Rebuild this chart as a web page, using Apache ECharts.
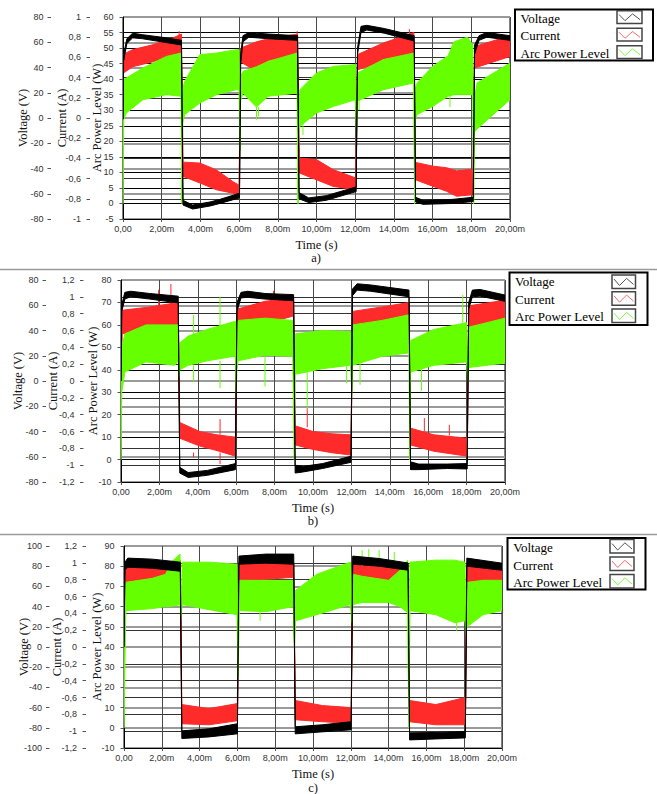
<!DOCTYPE html>
<html><head><meta charset="utf-8">
<script src="https://cdn.jsdelivr.net/npm/echarts@6/dist/echarts.min.js"></script>
<style>html,body{margin:0;padding:0;background:#fff}#c{width:657px;height:794px}</style>
</head><body><div id="c"></div>
<script>
// ---------- tick settings (min, max, interval) ----------
const timeAxis = [0, 20, 2];              // ms
const aArcAxis = [-5, 60, 5], aCurAxis = [-1, 1, 0.2], aVoltAxis = [-80, 80, 20];
const bArcAxis = [-10, 80, 10], bCurAxis = [-1.2, 1.2, 0.2], bVoltAxis = [-80, 80, 20];
const cArcAxis = [-10, 90, 10], cCurAxis = [-1.2, 1.2, 0.2], cVoltAxis = [-100, 100, 20];
const seriesNames = ['Voltage', 'Current', 'Arc Power Level'];
const captions = ['a)', 'b)', 'c)'];

// ---------- panel a (envelopes: time ms, lower / upper edge of the noisy trace) ----------
const aVoltT  = [0,0.03,0.2,0.5,1.0,2.0,3.02, 3.1,3.6,4.5,5.0,6.02, 6.08,6.2,6.5,7.5,9.02, 9.1,9.6,10.5,12.05, 12.12,12.3,12.6,13.5,15.05, 15.12,15.5,17.0,18.1, 18.17,18.4,18.8,20.0];
const aVoltLo = [-1,45,59,63.5,62.8,60.3,57.8, -68.9,-72.1,-69.7,-67.7,-63.3, 43,60.3,64.0,62.8,61.5, -64.0,-67.0,-65.2,-58.3, 50.5,67.7,69.7,67.2,61.0, -66.5,-68.4,-67.7,-66.2, 50.5,61.5,64.0,61.5];
const aVoltHi = [-1,50,62.8,67.2,66.0,64.0,61.5, -65.2,-68.9,-66.5,-64.5,-59.6, 50.5,65.2,67.7,66.5,65.2, -59.1,-63.3,-61.5,-54.6, 55.4,72.6,73.4,70.9,65.2, -62.8,-65.2,-64.5,-62.8, 57.8,65.2,67.7,65.2];

const aCurT  = [0,0.03,0.5,1.5,2.5,3.02, 3.1,3.97,4.83,5.69,6.0, 6.08,6.9,7.5,9.02, 9.12,10.0,10.86,12.03, 12.12,13.45,15.03, 15.12,16.03,16.72,17.24,18.08, 18.17,20.0];
const aCurLo = [-0.05,0.446,0.508,0.554,0.615,0.646, -0.578,-0.643,-0.711,-0.745,-0.760, 0.554,0.462,0.569,0.631, -0.545,-0.612,-0.677,-0.711, 0.477,0.560,0.643, -0.612,-0.677,-0.726,-0.775,-0.760, 0.495,0.609];
const aCurHi = [-0.05,0.631,0.677,0.723,0.785,0.831, -0.437,-0.446,-0.514,-0.631,-0.665, 0.692,0.754,0.785,0.831, -0.397,-0.412,-0.511,-0.594, 0.628,0.742,0.846, -0.440,-0.477,-0.492,-0.523,-0.508, 0.708,0.815];

const aPowT  = [0,0.04,0.17,1.03,2.24,3.0, 3.05,3.09,3.19,3.97,4.83,5.86, 6.0,6.04,6.08,6.2,6.9,7.5,9.0, 9.05,9.09,9.14,10.0,10.86,12.02, 12.07,12.12,13.45,15.03, 15.07,15.11,15.2,16.0,16.8,17.1,17.8,18.08, 18.12,18.16,18.3,20.0];
const aPowLo = [0,27,29.1,33.4,35,34.5, 0,26,28.6,32.3,35,36.6, 36.6,17,33,35.5,31,34.5,35.5, 0,24,24.8,29.1,31.2,33.4, 23,33,36.6,38.8, 0,27,28.6,31.2,34.5,35,35,35, 0,23,24,33.4];
const aPowHi = [0,40,40.4,43.6,47.3,48.4, 0,37,39.3,47.9,48.4,49.5, 49.5,17,41,42.5,44,45.7,48.4, 0,34,36.6,42,44.1,44.7, 23,42,46.3,48.4, 0,37,38.8,44.1,47.5,52,53.5,51, 0,34,38.8,45.2];
// isolated spikes: time, start, end
const aPowSpikeT = [6.9, 7.0, 9.3, 12.2, 16.9];
const aPowSpikeFrom = [31, 31, 26, 34, 35];
const aPowSpikeTo = [27, 28, 22, 30, 31];
const aCurSpikeT = [2.9, 9.0, 14.8];
const aCurSpikeFrom = [0.80, 0.80, 0.82];
const aCurSpikeTo = [0.86, 0.86, 0.88];

// ---------- panel b ----------
const bVoltT  = [0,0.04,0.2,0.5,1.5,2.98, 3.06,3.5,4.5,5.96, 6.04,6.25,6.6,7.5,8.99, 9.07,9.5,10.5,11.98, 12.06,12.3,13.0,15.0, 15.08,15.5,17.0,18.03, 18.11,18.3,18.7,20.0];
const bVoltLo = [0,55.1,64.9,66.7,64.9,61.9, -72.9,-76.4,-74.7,-70.2, 55.1,65.8,66.3,64.9,63.6, -72.9,-72.0,-69.3,-64.4, 67.6,72.0,71.1,66.7, -70.2,-70.2,-69.3,-69.7, 56.9,66.7,67.2,63.1];
const bVoltHi = [0,60.4,70.2,71.1,69.3,67.2, -68.4,-72.5,-70.8,-65.4, 62.2,70.2,71.1,69.3,68.4, -66.7,-67.6,-65.4,-59.6, 72.9,77.0,76.1,72.0, -64.0,-65.8,-65.8,-65.4, 62.2,72.0,72.5,68.1];

const bCurT  = [0,0.06,1.5,2.98, 3.06,4.1,5.0,5.96, 6.04,7.5,8.99, 9.07,10.0,11.0,11.98, 12.06,13.6,15.0, 15.08,16.3,18.03, 18.11,20.0];
const bCurLo = [-0.05,0.560,0.627,0.667, -0.680,-0.773,-0.827,-0.893, 0.613,0.680,0.773, -0.760,-0.813,-0.853,-0.880, 0.547,0.627,0.707, -0.760,-0.835,-0.893, 0.640,0.707];
const bCurHi = [-0.05,0.840,0.880,0.933, -0.493,-0.600,-0.640,-0.667, 0.853,0.947,0.987, -0.533,-0.600,-0.627,-0.640, 0.827,0.880,0.933, -0.560,-0.640,-0.680, 0.893,0.960];
const bCurSpikeT = [1.96, 2.6, 3.78, 5.16, 5.16, 7.5, 7.94, 9.7, 15.8, 17.1];
const bCurSpikeFrom = [0.88, 0.90, -0.85, -0.64, -0.85, 0.66, 0.93, -0.55, -0.60, -0.65];
const bCurSpikeTo = [1.083, 1.152, -0.907, -0.453, -0.987, 0.53, 1.07, -0.323, -0.44, -0.52];

const bPowT  = [0,0.04,0.2,1.3,2.8,2.98, 3.02,3.06,3.5,4.5,5.9,5.97, 6.0,6.04,6.1,7.5,8.95, 9.03,9.07,10.5,11.95, 12.02,12.06,13.6,15.0, 15.04,15.08,16.3,18.0, 18.07,18.11,20.0];
const bPowLo = [0,30,39,43.5,42,44, 37,40,42,44,46,46, 30,40,44,46.5,46, 0,38,40.5,42, 30,42,46,47.5, 0,39,42,43.5, 35,41,43];
const bPowHi = [0,50,56,60,60,60, 37,52,55,58,61.5,61.5, 30,58,62,63,62, 0,56,57.5,57, 30,60,62,64.5, 0,53,58,61, 35,59,63];
const bPowSpikeT = [3.78, 3.78, 5.16, 5.16, 7.5, 9.7, 11.75, 12.45, 15.65, 17.8];
const bPowSpikeFrom = [55, 42, 58, 44, 46.5, 40, 42, 44, 41, 61];
const bPowSpikeTo = [64.4, 34.8, 72.6, 31.8, 32.6, 22.9, 34, 33.3, 30.6, 73.3];

// ---------- panel c ----------
const cVoltT  = [0,0.05,0.2,1.5,2.98, 3.06,4.5,6.0, 6.08,7.5,8.98, 9.06,10.5,12.02, 12.1,13.5,15.03, 15.11,16.5,18.06, 18.14,20.0];
const cVoltLo = [0,76,79,78,75, -90.6,-89,-86, 82,83,82, -86,-84,-82, 82,80,76, -92,-91,-90, 80,76];
const cVoltHi = [0,84,88,87,84, -83,-81,-76, 90,92,92, -79,-77,-74, 90,87.6,83.2, -85,-84.6,-83.6, 88,83];

const cCurT  = [0,0.08,1.5,2.98, 3.06,4.5,6.0, 6.08,7.5,8.98, 9.06,10.5,12.02, 12.1,15.03, 15.11,16.5,18.06, 18.14,20.0];
const cCurLo = [0,0.768,0.816,0.888, -0.912,-0.924,-0.876, 0.780,0.804,0.828, -0.864,-0.888,-0.905, 0.828,0.732, -0.888,-0.924,-0.924, 0.720,0.792];
const cCurHi = [0,0.960,0.984,1.032, -0.684,-0.732,-0.672, 1.008,1.008,1.008, -0.636,-0.696,-0.720, 1.056,0.984, -0.636,-0.684,-0.600, 0.984,0.972];
const cCurSpikeT = [6.0, 18.08];
const cCurSpikeFrom = [-0.672, -0.60];
const cCurSpikeTo = [-0.528, -0.509];

const cPowT  = [0,0.06,0.1,1.5,2.2,2.5,2.96, 3.02,3.08,4.5,5.98, 6.04,6.1,7.5,8.96, 9.02,9.08,10.2,11.98, 12.06,12.12,12.6,14.0,14.6,15.01, 15.07,15.13,16.5,17.5,18.04, 18.1,18.16,19.0,20.0];
const cPowLo = [0,40,58,59,60,60,61, 55,61,58.5,56, 25,58,57.5,60, 40,53,56,61, 52,61,62,62,60,57, 0,58,56,52,53, 48,50,56,58];
const cPowHi = [0,66,72,74,76,82,86, 55,82,82,81, 25,73,73,73, 40,68,76,82, 52,76,75,73,78,83, 0,82,83,83,82, 48,72,73,73];
const cPowSpikeT = [12.6, 12.95, 13.5, 14.3, 7.2, 17.6];
const cPowSpikeFrom = [80, 80, 80, 80, 58, 53];
const cPowSpikeTo = [88, 88.5, 88, 87, 53, 48];

// ---------- layout ----------
const RED = '#ff2a2a', GREEN = '#66ff00', BLACK = '#000000';
const SERIF = '"Liberation Serif","Times New Roman",serif';
const SANS = '"Liberation Sans",Arial,sans-serif';
const panels = [
  {grid:{left:123, top:17, width:387, height:202}, arc:aArcAxis, cur:aCurAxis, volt:aVoltAxis,
   offCur:33, offVolt:72, gapArc:20, gapCur:21.5, gapVolt:22,
   v:[aVoltT,aVoltLo,aVoltHi], c:[aCurT,aCurLo,aCurHi], p:[aPowT,aPowLo,aPowHi],
   cs:[aCurSpikeT,aCurSpikeFrom,aCurSpikeTo], ps:[aPowSpikeT,aPowSpikeFrom,aPowSpikeTo],
   legend:{x:515, y:9.5, w:138, h:51, tx:520.5, ty:[18.3,35.8,53.3], ix:617, iw:25, iy:[10.7,28.3,45.7], ih:12.8},
   cap:[316, 258]},
  {grid:{left:121, top:280, width:384, height:202}, arc:bArcAxis, cur:bCurAxis, volt:bVoltAxis,
   offCur:37.5, offVolt:75, gapArc:21.5, gapCur:24, gapVolt:21.5,
   v:[bVoltT,bVoltLo,bVoltHi], c:[bCurT,bCurLo,bCurHi], p:[bPowT,bPowLo,bPowHi],
   cs:[bCurSpikeT,bCurSpikeFrom,bCurSpikeTo], ps:[bPowSpikeT,bPowSpikeFrom,bPowSpikeTo],
   legend:{x:509.5, y:272.5, w:138, h:52.5, tx:515, ty:[281.7,299.3,316.7], ix:612, iw:23.5, iy:[275,291.7,309], ih:13.5},
   cap:[313, 521]},
  {grid:{left:124, top:546, width:378, height:202}, arc:cArcAxis, cur:cCurAxis, volt:cVoltAxis,
   offCur:38, offVolt:74.5, gapArc:20.5, gapCur:22.5, gapVolt:19,
   v:[cVoltT,cVoltLo,cVoltHi], c:[cCurT,cCurLo,cCurHi], p:[cPowT,cPowLo,cPowHi],
   cs:[cCurSpikeT,cCurSpikeFrom,cCurSpikeTo], ps:[cPowSpikeT,cPowSpikeFrom,cPowSpikeTo],
   legend:{x:507.5, y:538, w:138, h:51.5, tx:513.3, ty:[547.3,565,582.3], ix:610, iw:24, iy:[539.5,557,574.5], ih:13.5},
   cap:[313, 788]}
];

function fmtNum(v){ const r = Math.round(v*100)/100; return String(r).replace('.', ','); }
function fmtTime(v){ return v === 0 ? '0,00' : v.toFixed(2).replace('.', ',') + 'm'; }

function yAx(gi, rng, name, offset, gap, margin, split){
  return {
    type:'value', gridIndex:gi, position:'left', offset:offset, min:rng[0], max:rng[1], interval:rng[2],
    name:name, nameLocation:'middle', nameRotate:90, nameGap:gap, nameMoveOverlap:false,
    nameTextStyle:{fontFamily:SERIF, fontSize:12.5, color:'#111'},
    axisLine:{show: offset === 0, lineStyle:{color:'#000', width:1}},
    axisTick:{show:true, length:3.5, lineStyle:{color:'#555', width:1}},
    axisLabel:{fontFamily:SANS, fontSize:9, color:'#333', margin:margin, formatter:fmtNum, hideOverlap:false},
    splitLine:{show:true, lineStyle:split}
  };
}

function band(gi, yi, arr, color, name){
  const t = arr[0], lo = arr[1], hi = arr[2];
  return {
    type:'custom', name:name, xAxisIndex:gi, yAxisIndex:yi, clip:true, silent:true,
    data: t.map((x,i)=>[x, lo[i], hi[i]]),
    encode:{x:0, y:[1,2]},
    renderItem:function(params, api){
      if (params.dataIndex !== 0) return null;
      const pts = [];
      for (let i=0;i<t.length;i++) pts.push(api.coord([t[i], hi[i]]));
      for (let i=t.length-1;i>=0;i--) pts.push(api.coord([t[i], lo[i]]));
      return {type:'polygon', shape:{points:pts}, style:{fill:color, stroke:color, lineWidth:1, lineJoin:'round'}};
    }
  };
}
function spikes(gi, yi, arr, color, name){
  const t = arr[0], a = arr[1], b = arr[2];
  return {
    type:'custom', name:name, xAxisIndex:gi, yAxisIndex:yi, clip:true, silent:true,
    data: t.map((x,i)=>[x, a[i], b[i]]),
    encode:{x:0, y:[1,2]},
    renderItem:function(params, api){
      const p1 = api.coord([api.value(0), api.value(1)]);
      const p2 = api.coord([api.value(0), api.value(2)]);
      return {type:'line', shape:{x1:p1[0], y1:p1[1], x2:p2[0], y2:p2[1]}, style:{stroke:color, lineWidth:1}};
    }
  };
}

const grids=[], xAxes=[], yAxes=[], series=[], graphics=[];
panels.forEach((P, gi)=>{
  grids.push(Object.assign({show:true, borderColor:'#000', borderWidth:1, backgroundColor:'#fff', containLabel:false}, P.grid));
  xAxes.push({type:'value', gridIndex:gi, min:timeAxis[0], max:timeAxis[1], interval:timeAxis[2],
    name:'Time (s)', nameLocation:'middle', nameGap:19, nameMoveOverlap:false,
    nameTextStyle:{fontFamily:SERIF, fontSize:12.5, color:'#111'},
    axisLine:{show:true, onZero:false, lineStyle:{color:'#000'}},
    axisTick:{show:true, length:3, lineStyle:{color:'#555'}},
    axisLabel:{fontFamily:SANS, fontSize:9, color:'#333', margin:5, formatter:fmtTime, showMinLabel:true, showMaxLabel:true},
    splitLine:{show:true, lineStyle:{color:'#4a4a4a', width:1}}});
  yAxes.push(yAx(gi, P.arc, 'Arc Power Level (W)', 0, P.gapArc, 9.5, {color:'#000', width:1}));
  yAxes.push(yAx(gi, P.cur, 'Current (A)', P.offCur, P.gapCur, 9, {color:'#333', width:1}));
  yAxes.push(yAx(gi, P.volt, 'Voltage (V)', P.offVolt, P.gapVolt, 7.5, {color:'#9a9a9a', width:2}));
  series.push(band(gi, gi*3+1, P.c, RED, seriesNames[1]));
  series.push(spikes(gi, gi*3+1, P.cs, RED, seriesNames[1]));
  series.push(band(gi, gi*3+0, P.p, GREEN, seriesNames[2]));
  series.push(spikes(gi, gi*3+0, P.ps, GREEN, seriesNames[2]));
  series.push(band(gi, gi*3+2, P.v, BLACK, seriesNames[0]));

  // legend box
  const L = P.legend;
  graphics.push({type:'rect', shape:{x:L.x, y:L.y, width:L.w, height:L.h}, style:{fill:'#fff', stroke:'#000', lineWidth:2}, z:10});
  seriesNames.forEach((nm, k)=>{
    graphics.push({type:'text', x:L.tx, y:L.ty[k], style:{text:nm, font:'13px '+SERIF, fill:'#000', verticalAlign:'middle', align:'left'}, z:11});
    graphics.push({type:'rect', shape:{x:L.ix, y:L.iy[k], width:L.iw, height:L.ih}, style:{fill:'#fff', stroke:'#444', lineWidth:1.5}, z:11});
    const x0=L.ix, y0=L.iy[k], w=L.iw, h=L.ih;
    graphics.push({type:'polyline', shape:{points:[[x0+2,y0+h*0.3],[x0+w*0.32,y0+h*0.78],[x0+w*0.62,y0+h*0.25],[x0+w-2,y0+h*0.7]]},
      style:{stroke: k===0 ? '#555' : (k===1 ? '#ff6a6a' : '#7dff3a'), lineWidth:1, fill:null}, z:12});
  });
  graphics.push({type:'text', x:P.cap[0], y:P.cap[1], style:{text:captions[gi], font:'12.5px '+SERIF, fill:'#111', align:'center', verticalAlign:'middle'}, z:11});
});
graphics.push({type:'line', shape:{x1:0, y1:269.5, x2:657, y2:269.5}, style:{stroke:'#9a9a9a', lineWidth:1.5}});
graphics.push({type:'line', shape:{x1:0, y1:534.5, x2:657, y2:534.5}, style:{stroke:'#9a9a9a', lineWidth:1.5}});

const chart = echarts.init(document.getElementById('c'), null, {renderer:'svg'});
chart.setOption({animation:false, backgroundColor:'#fff', grid:grids, xAxis:xAxes, yAxis:yAxes, series:series, graphic:graphics});
</script></body></html>
